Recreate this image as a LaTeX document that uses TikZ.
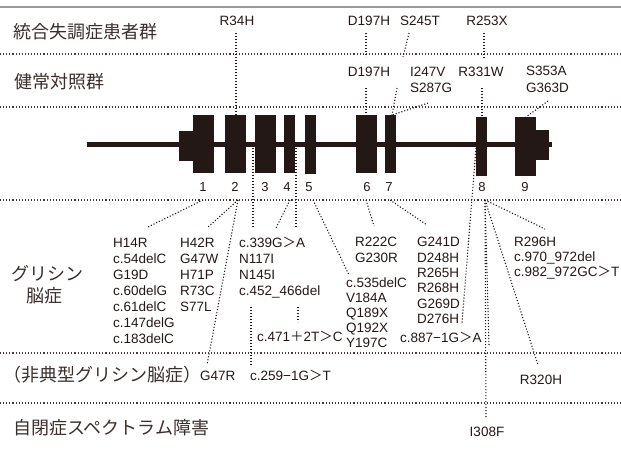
\documentclass[tikz,border=0pt]{standalone}
\usepackage{fontspec}
\setmainfont{Liberation Sans}
\newfontfamily\jpfont{Noto Sans CJK JP}
\definecolor{ink}{HTML}{231815}
\newcommand\fgt{{\jpfont ＞}}
\newcommand\fplus{{\jpfont ＋}}
\newcommand\fmin{−}
\tikzset{
  sepline/.style={draw=ink!85, line width=1.1pt, dash pattern=on 1.1pt off 2pt},
  conn/.style={draw=ink, line width=1.1pt, dash pattern=on 1.1pt off 1.9pt},
  mut/.style={font=\fontsize{13.5}{16}\selectfont, inner sep=0pt, text height=9.7pt, text depth=0pt, text=ink},
  lab/.style={font=\jpfont\fontsize{18}{20}\selectfont, inner sep=0pt, text height=15.8pt, text depth=2.2pt, text=ink!90},
  exon/.style={fill=ink, draw=none, inner sep=0pt, outer sep=0pt},
  num/.style={font=\fontsize{13}{15}\selectfont, inner sep=0pt, text height=9.3pt, text depth=0pt, text=ink}
}
\begin{document}
\begin{tikzpicture}[x=1pt,y=-1pt]
\useasboundingbox (0,0) rectangle (621,448);
% separators
\coordinate (t0) at (0,7); \coordinate (t1) at (621,7);
\draw[gray!80, line width=2pt] (t0) -- (t1);
\foreach \yy [count=\k] in {54,107,200,353,403} {
  \coordinate (s\k a) at (0,\yy); \coordinate (s\k b) at (621,\yy);
  \draw[sepline] (s\k a) -- (s\k b);
}
% row labels
\node[lab, anchor=west] (l1) at (13,32) {統合失調症患者群};
\node[lab, anchor=west] (l2) at (14,82) {健常対照群};
\node[lab] (l3a) at (48,274) {グリシン};
\node[lab] (l3b) at (44,296) {脳症};
\node[lab, anchor=west] (l4) at (3,375) {（非典型グリシン脳症）};
\node[lab, anchor=west] (l5) at (13,428) {自閉症スペクトラム障害};
% gene
\coordinate (g0) at (87,144.5); \coordinate (g1) at (552,144.5);
\draw[ink, line width=4.6pt] (g0) -- (g1);
\node[exon, minimum width=14pt, minimum height=30pt] (e1s) at (186,146) {};
\node[exon, minimum width=21pt, minimum height=58pt] (e1) at (203.5,144) {};
\node[exon, minimum width=21pt, minimum height=58pt] (e2) at (235.5,144) {};
\node[exon, minimum width=21pt, minimum height=58pt] (e3) at (265.5,144) {};
\node[exon, minimum width=11pt, minimum height=58pt] (e4) at (289.5,144) {};
\node[exon, minimum width=11pt, minimum height=59pt] (e5) at (310.5,144.5) {};
\node[exon, minimum width=21pt, minimum height=58pt] (e6) at (366.5,144) {};
\node[exon, minimum width=11pt, minimum height=58pt] (e7) at (390.5,144) {};
\node[exon, minimum width=11pt, minimum height=59pt] (e8) at (481.5,146.5) {};
\node[exon, minimum width=21pt, minimum height=59pt] (e9) at (525.5,146.5) {};
\node[exon, minimum width=13pt, minimum height=30pt] (e9s) at (542.5,145) {};
% exon numbers
\foreach \n/\xx in {1/203,2/235,3/265,4/287,5/309,6/367,7/389,8/482,9/525}
  \node[num] (n\n) at (\xx,187) {\n};
% upper labels
\node[mut] (r34h) at (237,21) {R34H};
\node[mut] (d197a) at (369,21) {D197H};
\node[mut] (s245t) at (420,21) {S245T};
\node[mut] (r253x) at (487,21) {R253X};
\node[mut] (d197b) at (369,72) {D197H};
\node[mut, anchor=west] (i247v) at (410,72) {I247V};
\node[mut, anchor=west] (s287g) at (410,88) {S287G};
\node[mut] (r331w) at (481,72) {R331W};
\node[mut, anchor=west] (s353a) at (526,71) {S353A};
\node[mut, anchor=west] (g363d) at (526,88) {G363D};
% lower labels
\foreach \t [count=\i] in {H14R,c.54delC,G19D,c.60delG,c.61delC,c.147delG,c.183delC}
  \node[mut, anchor=west] (ca\i) at (113,{243+15.9*(\i-1)}) {\t};
\foreach \t [count=\i] in {H42R,G47W,H71P,R73C,S77L}
  \node[mut, anchor=west] (cb\i) at (180,{243+15.9*(\i-1)}) {\t};
\foreach \t [count=\i] in {c.339G\fgt A,N117I,N145I,c.452\_466del}
  \node[mut, anchor=west] (cc\i) at (239,{243+15.8*(\i-1)}) {\t};
\node[mut, anchor=west] (c471) at (257,337) {c.471\fplus 2T\fgt C};
\foreach \t [count=\i] in {c.535delC,V184A,Q189X,Q192X,Y197C}
  \node[mut, anchor=west] (cd\i) at (346,{283+15*(\i-1)}) {\t};
\foreach \t [count=\i] in {R222C,G230R}
  \node[mut, anchor=west] (ce\i) at (355,{242+16*(\i-1)}) {\t};
\foreach \t [count=\i] in {G241D,D248H,R265H,R268H,G269D,D276H}
  \node[mut, anchor=west] (cf\i) at (417,{242+15.3*(\i-1)}) {\t};
\node[mut, anchor=west] (c887) at (400,338) {c.887\fmin 1G\fgt A};
\foreach \t [count=\i] in {R296H,c.970\_972del,c.982\_972GC\fgt T}
  \node[mut, anchor=west] (cg\i) at (514,{242+15*(\i-1)}) {\t};
\node[mut, anchor=west] (g47r) at (200,376) {G47R};
\node[mut, anchor=west] (c259) at (250,376) {c.259\fmin 1G\fgt T};
\node[mut] (r320h) at (541,380) {R320H};
\node[mut] (i308f) at (487,432) {I308F};
% connector end points
\coordinate (a1) at (236,33);  \coordinate (a2) at (236,115);
\coordinate (b1) at (366,33);  \coordinate (b2) at (366,57);
\coordinate (c1) at (409,33);  \coordinate (c2) at (403,57);
\coordinate (d1) at (484,33);  \coordinate (d2) at (484,58);
\coordinate (f1) at (366,88);  \coordinate (f2) at (366,115);
\coordinate (h1) at (397,88);  \coordinate (h2) at (392,115);
\coordinate (h3) at (428,103);
\coordinate (k1) at (482,88);  \coordinate (k2) at (482,117);
\coordinate (m1) at (548,101); \coordinate (m2) at (526,117);
\coordinate (p1) at (203,200); \coordinate (p2) at (148,227);
\coordinate (q1) at (238,200); \coordinate (q2) at (207,228); \coordinate (q3) at (207,365);
\coordinate (u1) at (253,148); \coordinate (u2) at (253,228);
\coordinate (v1) at (290,200); \coordinate (v2) at (276,228);
\coordinate (w1) at (296,148); \coordinate (w2) at (296,228);
\coordinate (x1) at (298,307); \coordinate (x2) at (298,322);
\coordinate (y1) at (251,307); \coordinate (y2) at (251,365);
\coordinate (z1) at (313,200); \coordinate (z2) at (349,275);
\coordinate (o1) at (366,200); \coordinate (o2) at (374,226);
\coordinate (j1) at (390,200); \coordinate (j2) at (427,225);
\coordinate (ee1) at (476,148); \coordinate (ee2) at (462,323);
\coordinate (ec) at (485,200);
\coordinate (er1) at (545,229); \coordinate (er2) at (538,365);
\coordinate (er3) at (486,418); \coordinate (er4) at (489,346);
% connectors
\draw[conn] (a1) -- (a2);
\draw[conn] (b1) -- (b2);
\draw[conn] (c1) -- (c2);
\draw[conn] (d1) -- (d2);
\draw[conn] (f1) -- (f2);
\draw[conn] (h1) -- (h2);
\draw[conn] (h3) -- (h2);
\draw[conn] (k1) -- (k2);
\draw[conn] (m1) -- (m2);
\draw[conn] (p1) -- (p2);
\draw[conn] (q1) -- (q2);
\draw[conn] (q1) -- (q3);
\draw[conn] (u1) -- (u2);
\draw[conn] (v1) -- (v2);
\draw[conn] (w1) -- (w2);
\draw[conn] (x1) -- (x2);
\draw[conn] (y1) -- (y2);
\draw[conn] (z1) -- (z2);
\draw[conn] (o1) -- (o2);
\draw[conn] (j1) -- (j2);
\draw[conn] (ee1) -- (ee2);
\draw[conn] (ec) -- (er1);
\draw[conn] (ec) -- (er2);
\draw[conn] (ec) -- (er3);
\draw[conn] (ec) -- (er4);
\end{tikzpicture}
\end{document}
